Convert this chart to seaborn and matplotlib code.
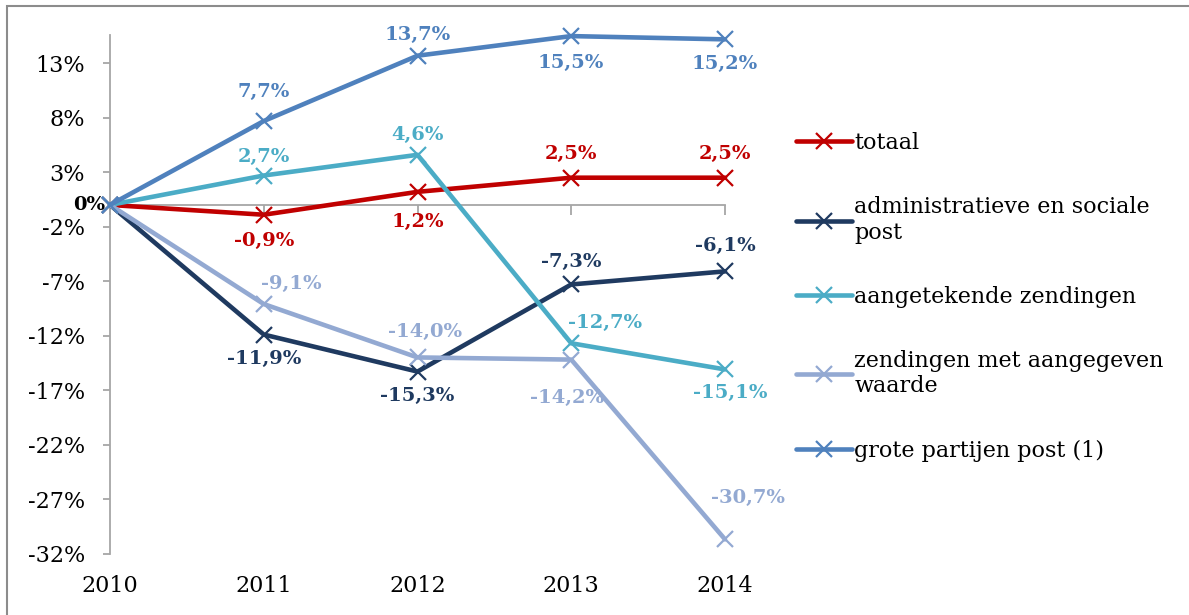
import seaborn as sns
import matplotlib.pyplot as plt
import matplotlib.patches as patches
import pandas as pd
import numpy as np

# data
jaren = [2010, 2011, 2012, 2013, 2014]
totaal = [0.0, -0.9, 1.2, 2.5, 2.5]
administratief = [0.0, -11.9, -15.3, -7.3, -6.1]
aangetekend = [0.0, 2.7, 4.6, -12.7, -15.1]
aangegeven_waarde = [0.0, -9.1, -14.0, -14.2, -30.7]
grote_partijen = [0.0, 7.7, 13.7, 15.5, 15.2]

namen = ["totaal", "administratieve en sociale\npost", "aangetekende zendingen",
         "zendingen met aangegeven\nwaarde", "grote partijen post (1)"]
reeksen = [totaal, administratief, aangetekend, aangegeven_waarde, grote_partijen]
kleuren = ["#C00000", "#1F3A60", "#4BACC6", "#93A9D2", "#4F81BD"]

y_ticks = [13, 8, 3, -2, -7, -12, -17, -22, -27, -32]

# label offsets (pixels) per series, per year 2011..2014
offsets = [
    [(0, -26), (0, -30), (0, 24), (0, 24)],
    [(0, -24), (0, -24), (0, 22), (0, 25)],
    [(0, 19), (0, 20), (34, 20), (5, -24)],
    [(28, 20), (8, 25), (-4, -38), (23, 41)],
    [(0, 29), (0, 21), (0, -27), (0, -25)],
]

sns.set_style("white")
plt.rcParams['font.family'] = ['DejaVu Serif']

fig = plt.figure(figsize=(11.89, 6.15), dpi=100)
ax = fig.add_axes([110 / 1189, 1 - 553.5 / 615, 615 / 1189, 518.5 / 615])

rijen = []
for naam, reeks in zip(namen, reeksen):
    for j, v in zip(jaren, reeks):
        rijen.append({"jaar": j, "waarde": v, "reeks": naam})
df = pd.DataFrame(rijen)

for naam, kleur in zip(namen, kleuren):
    sub = df[df["reeks"] == naam]
    sns.lineplot(data=sub, x="jaar", y="waarde", ax=ax, color=kleur, lw=3.3,
                 marker="x", markersize=11, markeredgewidth=1.6,
                 markeredgecolor=kleur, label=naam, clip_on=False, zorder=3)

# data labels
px = 0.72
for reeks, kleur, offs in zip(reeksen, kleuren, offsets):
    for j, v, (dx, dy) in zip(jaren[1:], reeks[1:], offs):
        ax.annotate(f"{v:.1f}%".replace(".", ","), (j, v),
                    xytext=(dx * px, dy * px), textcoords="offset points",
                    ha="center", va="center", fontsize=14, fontweight="bold",
                    color=kleur, annotation_clip=False)
ax.annotate("0%", (jaren[0], 0), xytext=(-5 * px, 0), textcoords="offset points",
            ha="right", va="center", fontsize=14, fontweight="bold", color="black",
            annotation_clip=False)

ax.set_xlim(2010, 2014)
ax.set_ylim(-32, 15.6)
ax.set_yticks(y_ticks)
ax.set_yticklabels([f"{t}%" for t in y_ticks])
ax.set_xticks(jaren)
ax.set_xticklabels([str(j) for j in jaren])
ax.set_xlabel("")
ax.set_ylabel("")

grijs = "#A6A6A6"
for s in ["top", "right", "bottom"]:
    ax.spines[s].set_visible(False)
ax.spines["left"].set_color(grijs)
ax.spines["left"].set_linewidth(1.3)
ax.tick_params(axis="y", which="both", left=True, length=5, width=1.3, color=grijs,
               labelsize=16, pad=13, labelcolor="black")
ax.tick_params(axis="x", which="both", bottom=False, labelsize=16, pad=12,
               labelcolor="black")

# horizontal category axis at y = 0
nul = (0 - (-32)) / (15.6 + 32)
sec = ax.secondary_xaxis(nul)
sec.set_xticks(jaren)
sec.set_xticklabels([])
for s in sec.spines.values():
    s.set_color(grijs)
    s.set_linewidth(1.3)
sec.tick_params(axis="x", which="both", length=7, width=1.3, color=grijs,
                direction="in", top=True, bottom=False)

leg = ax.legend(loc="upper left", bbox_to_anchor=(776 / 1189, 1 - 112 / 615),
                bbox_transform=fig.transFigure, frameon=False, fontsize=16,
                handlelength=2.5, handletextpad=0.12, labelspacing=1.9)
for t in leg.get_texts():
    t.set_color("black")

# outer border
fig.patches.append(patches.Rectangle((7 / 1189, -0.05), 1.2, 1.05 - 6 / 615,
                                     transform=fig.transFigure, fill=False,
                                     edgecolor="#8C8C8C", lw=1.5))

fig.savefig("out.png", dpi=100)
